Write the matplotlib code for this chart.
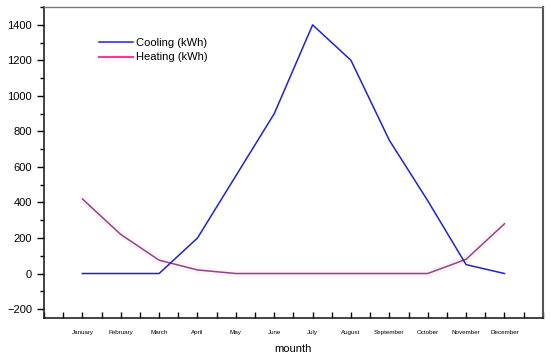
import matplotlib
matplotlib.use("Agg")
import matplotlib.pyplot as plt
from matplotlib.lines import Line2D
from matplotlib.ticker import MultipleLocator

plt.rcParams['font.family'] = ['Liberation Sans', 'DejaVu Sans']

months = ["January", "February", "March", "April", "May", "June", "July",
          "August", "September", "October", "November", "December"]
cooling = [0, 0, 0, 200, 550, 900, 1400, 1200, 750, 410, 50, 0]
heating = [420, 220, 75, 20, 0, 0, 0, 0, 0, 0, 80, 280]

fig = plt.figure(figsize=(5.5, 3.56), dpi=100)
ax = fig.add_axes([0.08, 0.107, 0.907, 0.873])

x = list(range(1, len(months) + 1))
ax.plot(x, heating, color='#ff66cc', lw=5, alpha=0.08, solid_capstyle='butt')
ax.plot(x, heating, color='#8b4a80', lw=1.1)
ax.plot(x, cooling, color='#2222cc', lw=1.1)

ax.set_xlim(0, 13)
ax.set_ylim(-250, 1500)
ax.set_xticks(x)
ax.set_xticklabels(months, fontsize=4.5)
ax.xaxis.set_minor_locator(MultipleLocator(0.5))
ax.yaxis.set_major_locator(MultipleLocator(200))
ax.yaxis.set_minor_locator(MultipleLocator(100))
ax.tick_params(axis='x', which='both', direction='in', length=4, width=1, pad=9)
ax.tick_params(axis='y', which='major', direction='out', length=5, width=1, labelsize=8)
ax.tick_params(axis='y', which='minor', direction='out', length=3, width=1)
ax.set_xlabel("mounth", fontsize=8, labelpad=6)

for s in ['left', 'bottom']:
    ax.spines[s].set_linewidth(1.2)
    ax.spines[s].set_color('#222222')
ax.spines['right'].set_color('#555555')
ax.spines['right'].set_linewidth(1.5)
ax.spines['top'].set_color('#777777')
ax.spines['top'].set_linewidth(1.0)

handles = [Line2D([], [], color='#2222cc', lw=1.1),
           Line2D([], [], color='#ff3399', lw=1.5)]
ax.legend(handles, ["Cooling (kWh)", "Heating (kWh)"], loc='upper left',
          bbox_to_anchor=(0.102, 0.915), frameon=False, fontsize=8,
          handlelength=3.0, handletextpad=0.3, labelspacing=0.4,
          borderaxespad=0)

fig.savefig("out.png", dpi=100)
